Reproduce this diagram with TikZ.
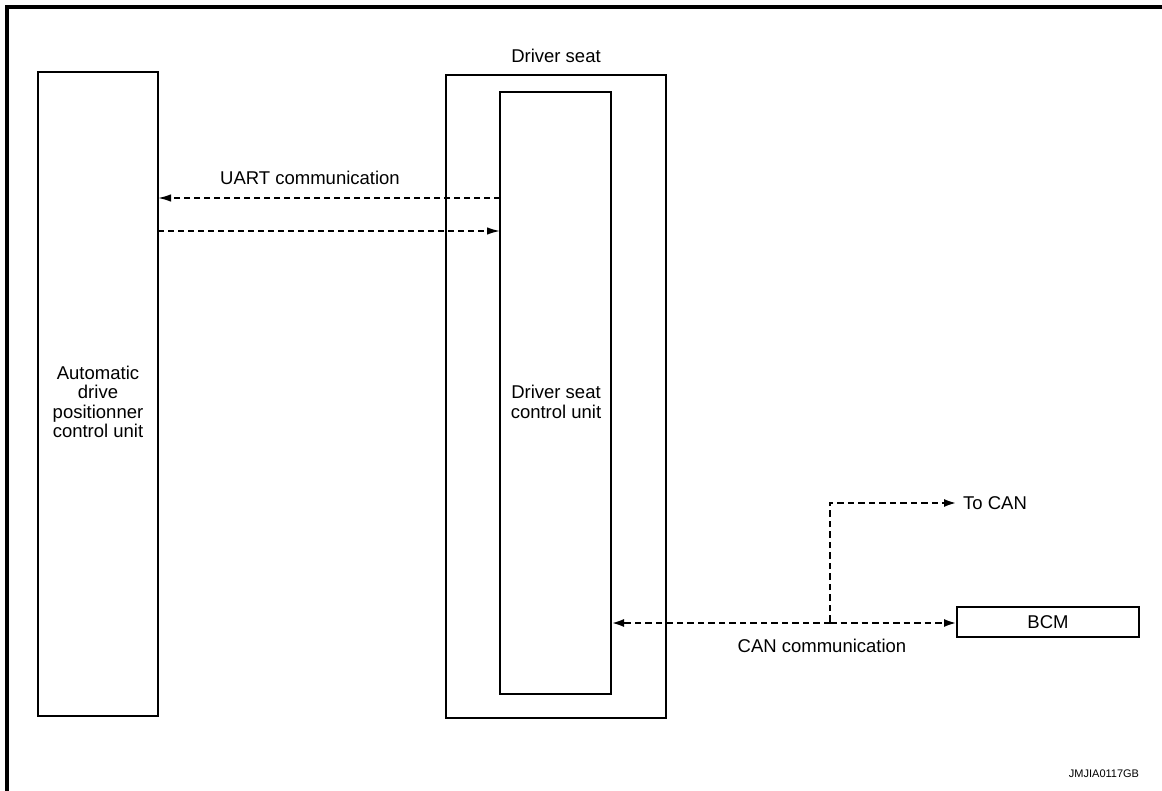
\documentclass[tikz,border=0pt]{standalone}
\usepackage{fontspec}
\setmainfont{Liberation Sans}
\usetikzlibrary{arrows.meta}
\begin{document}
\begin{tikzpicture}[x=1pt,y=-1pt,
  box/.style={draw,line width=1.3pt,inner sep=0pt,outer sep=0pt},
  txt/.style={align=center,inner sep=0pt,font=\fontsize{18.5}{19.5}\selectfont},
  uart/.style={line width=1.5pt,dash pattern=on 6pt off 4pt,-{Latex[length=13pt,width=7.5pt]}},
  can/.style={line width=2.6pt,dash pattern=on 6.5pt off 4pt},
  cantip/.style={-{Latex[length=13pt,width=8pt]}}]
\useasboundingbox (0,0) rectangle (1162,791);
\draw[line width=3.5pt] (7,791) -- (7,7) -- (1162,7);
% boxes
\node[box,minimum width=120pt,minimum height=644pt] (adp) at (98,394) {};
\node[txt] (adptxt) at (98,402) {Automatic\\drive\\positionner\\control unit};
\node[box,minimum width=220pt,minimum height=643pt] (seat) at (556,396.5) {};
\node[txt,anchor=base] (seatlbl) at (556,63) {Driver seat};
\node[box,minimum width=111pt,minimum height=602pt] (dscu) at (555.5,393) {};
\node[txt] (dscutxt) at (556,402) {Driver seat\\control unit};
\node[box,minimum width=182pt,minimum height=30pt] (bcm) at (1048,622) {};
\node[txt] (bcmtxt) at (bcm.center) {BCM};
% UART
\node[txt,anchor=base] (uartlbl) at (310,185) {UART communication};
\draw[uart] (dscu.west |- 0,198) -- (adp.east |- 0,198);
\draw[uart] (adp.east |- 0,231) -- (dscu.west |- 0,231);
% CAN
\coordinate (j) at (830,623);
\node[txt,anchor=west] (tocan) at (963,503) {To CAN};
\draw[can,cantip] (j) -- (dscu.east |- j);
\draw[can,cantip] (j) -- (bcm.west |- j);
\draw[can,cantip] ([yshift=1.3pt]j) |- ([xshift=-6pt]tocan.west);
\node[txt,anchor=base] (canlbl) at (822,652) {CAN communication};
\node[anchor=base,inner sep=0pt,font=\fontsize{11}{12}\selectfont] (code) at (1104,777) {JMJIA0117GB};
\end{tikzpicture}
\end{document}
